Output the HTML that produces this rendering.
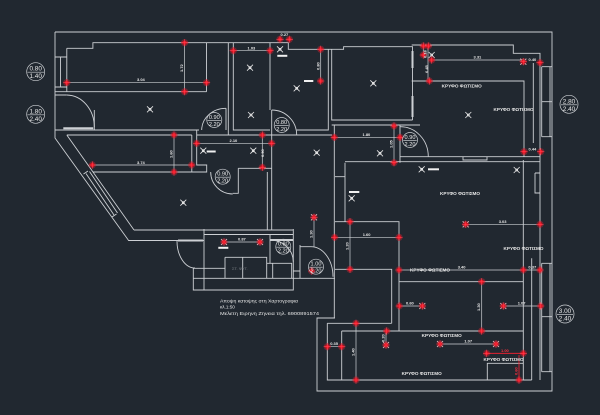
<!DOCTYPE html>
<html><head><meta charset="utf-8"><style>
html,body{margin:0;padding:0;background:#212830;}
svg{display:block;}
text{font-family:"Liberation Sans","DejaVu Sans",sans-serif;fill:#e8e8e8;font-weight:bold;}
.d{font-size:4px;}
.k{font-size:4.6px;}
.c{font-size:5.6px;font-weight:normal;text-anchor:middle;}
.cb{font-size:6.4px;font-weight:normal;text-anchor:middle;}
.t{font-size:4.6px;font-weight:normal;}
</style></head><body>
<svg width="600" height="415" viewBox="0 0 600 415" xmlns="http://www.w3.org/2000/svg">
<defs>
<g id="r"><circle r="3.6" fill="#ff2030" opacity="0.35"/><circle r="2" fill="#e8101e"/><path d="M-3.6 0H3.6M0 -3.6V3.6" stroke="#ff4050" stroke-width="0.6"/></g>
<g id="s"><path d="M-3 -3L3 3M-3 3L3 -3" stroke="#e8e8e8" stroke-width="0.8"/><circle r="1.1" fill="none" stroke="#e8e8e8" stroke-width="0.6"/></g>
</defs>
<rect width="600" height="415" fill="#212830"/>

<g fill="none" stroke="#cdd0d4" stroke-width="0.9">
<path d="M55 32H552V391H317V318H335
M55 32V138L128.6 240.5H204
M55 57H66.8M55 87H66.8M60.5 57V87
M66.8 48.3V91.7M66.8 48.3H92.9V42.7H288.3V49.3H343.6V46.7H412.5V120
M55 91.7H206.5M206.5 42.7V91.7
M55 95H66.8M94.3 110V130
M55 130H199
M66.8 135H191.8M66.8 135L134 230
M134 230H293.5M204 234.5H293.5M204 229V290
M191.8 135V172M93 172H206.7V165H196.7V130
M238.3 168.3V193.3H232.7M238.3 168.3H271.7
M267.3 172V230M271.7 130V230
M193.3 268V290H293.3V229M193.3 278.3H335M193.3 268.3H225
M270 235V263.3
M300 245V278.3M293.3 271H300M300 246.7H311
M228.3 42.7V135M233.3 42.7V130H270M270 42.7V110M271.7 110V135
M226 108.3V130
M296.7 130H328.3V49.3M331.7 49.3V120H412.5
M197 135H332
M331.7 125H420M334.3 125V318
M400 125V162.7
M345 161.7H540M400 156.7H540V53.3H513.3V45H411.7
M411.7 81H524V156.7M533.3 63V143
M541.7 66.7V136.7M550 66.7V136.7M541.7 66.7H552M541.7 101.7H552M541.7 136.7H552
M345 162.7V221.7M335 176.7H345
M335 221.7H399V331M335 269.3H391.7V323.3
M399 281.7H523.3M523.3 160V380M540 156.7V380M531.7 258.3V380
M535 173H540M535 173V193H540
M541.7 263.3V371.7M550 263.3V371.7M541.7 263.3H552M541.7 316.7H552M541.7 371.7H552
M391.7 331H523.3M341.7 331H391.7
M327.3 323.3H391.7M327.3 323.3V380H531.7M341.7 331V380
M487.3 380V363.3H523.3
M225 257.3H266.7V278.3M225 257.3V278.3M242.7 257.3V278.3
M266.7 263.3H291.7V278.3M272.7 263.3V278.3
M463 156.7V160H487V156.7
M88 171L83.5 174M116.5 214L112 217
M86 173.5L114 215M89.5 171.5L117.5 213
"/>
<!-- door arcs -->
<path d="M66.8 95A28 32 0 0 1 94.3 127
M210.7 172A22 22 0 0 0 232.7 194
M201.7 130A24.3 21.7 0 0 1 226 108.3
M271.7 110A25 25 0 0 1 296.7 135
M270 240A23 22 0 0 1 293.3 261.7
M311 246.7A22 30 0 0 1 333 276.7
M400 126.7A28 30 0 0 1 428.3 156.7
M177 241A18 27 0 0 0 195 268"/>
<!-- dimension lines -->
<path stroke-width="0.7" d="M66.8 82.7H206.5M184.6 42.7V91.7
M174 135V172M92.3 165H191.7
M196.7 143.3H271.7M262.3 135V167.3
M233.3 50.7H270M320.7 49.3V81
M334.3 137.3H400M394 126V162.7
M431.7 60H523.3M428 46V81M423.3 46V55
M465.7 224.3H540M334.6 237.3H399M350 221.7V269.3
M399 270H540M399.3 306H422.3M481.7 281.7V331M503.3 306H540.7
M440 344H496M356 323.3V380M327.3 346.7H341.7M386 331V345
M314 217.3V246.7M224 242H260"/>
</g>
<!-- thick sills / windows -->
<g stroke="#cdd0d4" stroke-width="2" fill="none">
<path d="M63.3 128.3H93.3M270 240H293M412.5 51V68M412.5 96V117M178 240.5H203"/>
</g>
<path d="M486.7 353.3H523.3M519 355V380" stroke="#ff2030" stroke-width="0.8" fill="none"/>

<!-- white switch bars -->
<g fill="#f0f0f0">
<rect x="206.7" y="150.5" width="9" height="2"/>
<rect x="304" y="80" width="9.3" height="2"/>
<rect x="277.3" y="54.8" width="10" height="2"/>
<rect x="428" y="168.3" width="11" height="2"/>
<rect x="349" y="191" width="10.3" height="2"/>
<rect x="218.3" y="246.8" width="10" height="2"/>
</g>

<!-- light fixtures -->
<use href="#s" x="150" y="109.3"/>
<use href="#s" x="183.3" y="202.7"/>
<use href="#s" x="203.3" y="150.7"/>
<use href="#s" x="253.3" y="150.7"/>
<use href="#s" x="316.7" y="152.7"/>
<use href="#s" x="250" y="67.7"/>
<use href="#s" x="251" y="115"/>
<use href="#s" x="296.7" y="88.3"/>
<use href="#s" x="280" y="49.3"/>
<use href="#s" x="373.3" y="83.3"/>
<use href="#s" x="380" y="153.3"/>
<use href="#s" x="468.3" y="115"/>
<use href="#s" x="431.7" y="55"/>
<use href="#s" x="421.7" y="169.3"/>
<use href="#s" x="516.7" y="170"/>
<use href="#s" x="351.7" y="198.3"/>
<use href="#s" x="465.7" y="224.3"/>
<use href="#s" x="314" y="217.3"/>
<use href="#s" x="224" y="242"/>
<use href="#s" x="260" y="242"/>
<use href="#s" x="422.3" y="306"/>
<use href="#s" x="503.3" y="306"/>
<use href="#s" x="386" y="345"/>
<use href="#s" x="440" y="344"/>
<use href="#s" x="496" y="344"/>
<use href="#s" x="523.3" y="61.7"/>

<!-- red markers -->
<g>
<use href="#r" x="184.6" y="42.7"/><use href="#r" x="184.6" y="91.7"/><use href="#r" x="66.8" y="82.7"/><use href="#r" x="206.5" y="82.7"/>
<use href="#r" x="174" y="135"/><use href="#r" x="174" y="172"/><use href="#r" x="92.3" y="165"/><use href="#r" x="191.7" y="165"/>
<use href="#r" x="196.7" y="143.3"/><use href="#r" x="271.7" y="143.3"/><use href="#r" x="262.3" y="135"/><use href="#r" x="262.3" y="167.3"/>
<use href="#r" x="233.3" y="50.7"/><use href="#r" x="270" y="50.7"/><use href="#r" x="320.7" y="49.3"/><use href="#r" x="320.7" y="81"/>
<use href="#r" x="280" y="39.3"/><use href="#r" x="289.3" y="39.3"/>
<use href="#r" x="334.3" y="137.3"/><use href="#r" x="400" y="137.3"/><use href="#r" x="394" y="126"/><use href="#r" x="394" y="162.7"/>
<use href="#r" x="423.3" y="46"/><use href="#r" x="428.3" y="46"/><use href="#r" x="423.3" y="55"/><use href="#r" x="431.7" y="60"/><use href="#r" x="429.3" y="81"/>
<use href="#r" x="523.3" y="61.7"/><use href="#r" x="540" y="62.7"/><use href="#r" x="524" y="151.7"/><use href="#r" x="540.7" y="151.7"/>
<use href="#r" x="465.7" y="224.3"/><use href="#r" x="540" y="224.3"/>
<use href="#r" x="350" y="221.7"/><use href="#r" x="334.6" y="237.3"/><use href="#r" x="399" y="237.3"/><use href="#r" x="350" y="269.3"/>
<use href="#r" x="399" y="270"/><use href="#r" x="523.3" y="270"/><use href="#r" x="540" y="270"/><use href="#r" x="481.7" y="281.7"/>
<use href="#r" x="399.3" y="306"/><use href="#r" x="422.3" y="306"/><use href="#r" x="503.3" y="306"/><use href="#r" x="540.7" y="306"/>
<use href="#r" x="481.7" y="331"/><use href="#r" x="386.7" y="331"/><use href="#r" x="386" y="345"/>
<use href="#r" x="356" y="323.3"/><use href="#r" x="356" y="380"/><use href="#r" x="327.3" y="346.7"/><use href="#r" x="341.7" y="346.7"/>
<use href="#r" x="440" y="344"/><use href="#r" x="496" y="344"/><use href="#r" x="486.7" y="353.3"/><use href="#r" x="523.3" y="353.3"/><use href="#r" x="519" y="380"/>
<use href="#r" x="314" y="217.3"/><use href="#r" x="311.7" y="271"/><use href="#r" x="224" y="242"/><use href="#r" x="260" y="242"/>
</g>

<!-- door circles -->
<g fill="none" stroke="#cdd0d4" stroke-width="0.7">
<circle cx="214.3" cy="120" r="7.5"/><path d="M207.5 120.5H221"/>
<circle cx="281.7" cy="125" r="7.5"/><path d="M275 125.5H288.5"/>
<circle cx="222.7" cy="176.7" r="7.5"/><path d="M216 177.2H229.5"/>
<circle cx="410" cy="140" r="7.5"/><path d="M403.3 140.5H416.7"/>
<circle cx="283.3" cy="246.7" r="7.5"/><path d="M276.5 247.2H290"/>
<circle cx="316" cy="266.7" r="7.5"/><path d="M309.3 267.2H322.7"/>
<circle cx="35.7" cy="71.7" r="9"/><path d="M27.5 72.2H44"/>
<circle cx="35.7" cy="114.3" r="9"/><path d="M27.5 114.8H44"/>
<circle cx="569" cy="104.3" r="9"/><path d="M561 104.8H577"/>
<circle cx="565" cy="314" r="9"/><path d="M557 314.5H573"/>
</g>
<text class="c" x="214.3" y="119">0.90</text><text class="c" x="214.3" y="125.8">2.20</text>
<text class="c" x="281.7" y="124">0.80</text><text class="c" x="281.7" y="130.8">2.20</text>
<text class="c" x="222.7" y="175.7">0.90</text><text class="c" x="222.7" y="182.5">2.20</text>
<text class="c" x="410" y="139">0.90</text><text class="c" x="410" y="145.8">2.20</text>
<text class="c" x="283.3" y="245.7">0.80</text><text class="c" x="283.3" y="252.5">2.20</text>
<text class="c" x="316" y="265.7">1.00</text><text class="c" x="316" y="272.5">2.20</text>
<text class="cb" x="35.7" y="70.7">0.80</text><text class="cb" x="35.7" y="78.2">1.40</text>
<text class="cb" x="35.7" y="113.3">1.80</text><text class="cb" x="35.7" y="120.8">2.40</text>
<text class="cb" x="569" y="103.3">2.80</text><text class="cb" x="569" y="110.8">2.40</text>
<text class="cb" x="565" y="313">3.00</text><text class="cb" x="565" y="320.5">2.40</text>

<!-- dimension labels -->
<g class="d">
<text class="d" x="137" y="81.2">3.04</text>
<text class="d" transform="translate(183,72) rotate(-90)">1.72</text>
<text class="d" x="137" y="163.8">3.74</text>
<text class="d" transform="translate(172.5,158) rotate(-90)">1.60</text>
<text class="d" x="229.5" y="142">2.10</text>
<text class="d" transform="translate(264,157) rotate(-90)">0.90</text>
<text class="d" x="247.5" y="49.3">1.03</text>
<text class="d" x="280.5" y="36.2">0.27</text>
<text class="d" transform="translate(319.5,70) rotate(-90)">0.80</text>
<text class="d" x="362.5" y="136">1.80</text>
<text class="d" transform="translate(392.5,148) rotate(-90)">1.05</text>
<text class="d" x="473.5" y="58.6">3.31</text>
<text class="d" transform="translate(426.5,58) rotate(-90)">0.18</text>
<text class="d" transform="translate(428,73) rotate(-90)">0.45</text>
<text class="d" x="528.5" y="61">0.40</text>
<text class="d" x="528.5" y="150.4">0.44</text>
<text class="d" x="498.7" y="222.9">3.03</text>
<text class="d" x="362.7" y="236">1.60</text>
<text class="d" transform="translate(348.5,250) rotate(-90)">1.20</text>
<text class="d" x="457.7" y="268.7">3.40</text>
<text class="d" x="528.4" y="268.5">0.37</text>
<text class="d" x="406" y="304.7">0.60</text>
<text class="d" transform="translate(480,311) rotate(-90)">1.30</text>
<text class="d" x="517.7" y="304.7">1.07</text>
<text class="d" x="464.3" y="342.7">1.07</text>
<text class="d" transform="translate(354.5,356) rotate(-90)">1.40</text>
<text class="d" x="330.2" y="345">0.35</text>
<text class="d" transform="translate(384.5,342) rotate(-90)">0.20</text>
<text class="d" transform="translate(312.5,238) rotate(-90)">1.30</text>
<text class="d" x="238" y="240.6">0.87</text>
<text class="d" x="501" y="352" style="fill:#ff3040">1.00</text>
<text class="d" transform="translate(517.5,375) rotate(-90)" style="fill:#ff3040">0.60</text>
</g>

<!-- ΚΡΥΦΟ ΦΩΤΙΣΜΟ labels -->
<text class="k" x="441.7" y="87.5" textLength="40" lengthAdjust="spacingAndGlyphs">ΚΡΥΦΟ ΦΩΤΙΣΜΟ</text>
<text class="k" x="493.5" y="111" textLength="40" lengthAdjust="spacingAndGlyphs">ΚΡΥΦΟ ΦΩΤΙΣΜΟ</text>
<text class="k" x="440" y="195" textLength="40" lengthAdjust="spacingAndGlyphs">ΚΡΥΦΟ ΦΩΤΙΣΜΟ</text>
<text class="k" x="503.5" y="250" textLength="40" lengthAdjust="spacingAndGlyphs">ΚΡΥΦΟ ΦΩΤΙΣΜΟ</text>
<text class="k" x="410" y="271.5" textLength="40" lengthAdjust="spacingAndGlyphs">ΚΡΥΦΟ ΦΩΤΙΣΜΟ</text>
<text class="k" x="421.7" y="336.8" textLength="40" lengthAdjust="spacingAndGlyphs">ΚΡΥΦΟ ΦΩΤΙΣΜΟ</text>
<text class="k" x="483.5" y="361" textLength="40" lengthAdjust="spacingAndGlyphs">ΚΡΥΦΟ ΦΩΤΙΣΜΟ</text>
<text class="k" x="401.7" y="375" textLength="40" lengthAdjust="spacingAndGlyphs">ΚΡΥΦΟ ΦΩΤΙΣΜΟ</text>

<text x="232" y="270" style="font-size:4px;font-weight:normal;fill:#7d8288">ΣΤ. ΨΥΓ.</text>

<!-- title block -->
<text class="t" x="220" y="302.5" textLength="78" lengthAdjust="spacingAndGlyphs">Αποψη κατοψης στη Χαρτογραφια</text>
<text class="t" x="220" y="308.5">κλ.1:50</text>
<text class="t" x="220" y="314.8" textLength="99" lengthAdjust="spacingAndGlyphs">Μελετη Ειρηνη Ζηνεια  τηλ. 6900891574</text>
</svg>
</body></html>
